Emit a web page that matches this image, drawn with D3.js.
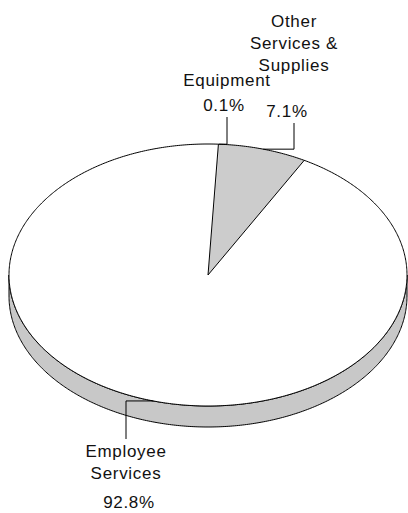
<!DOCTYPE html>
<html>
<head>
<meta charset="utf-8">
<script src="https://cdn.jsdelivr.net/npm/d3@7"></script>
<style>
  body { margin: 0; background: #fff; }
  text { font-family: "Liberation Sans", Arial, sans-serif; font-size: 17px; letter-spacing: 0.7px; fill: #111; }
</style>
</head>
<body>
<svg id="chart" width="408" height="513"></svg>
<script>
// DATA
const categories = ["Equipment", "Other Services & Supplies", "Employee Services"];
const shares = [0.1, 7.1, 92.8];
const nameLines = [["Equipment"], ["Other", "Services &", "Supplies"], ["Employee", "Services"]];
const pctLabels = ["0.1%", "7.1%", "92.8%"];

const svg = d3.select("#chart");

// ellipse geometry for the tilted pie
const cx = 208, cy = 275, rx = 199, ry = 131, depth = 21;
const startOffset = 3.0 * Math.PI / 180;

const topColor = d3.scaleOrdinal().domain(categories).range(["#cccccc", "#cccccc", "#ffffff"]);
const sideColor = d3.scaleOrdinal().domain(categories).range(["#b4b4b4", "#b4b4b4", "#c8c8c8"]);

const pie = d3.pie().sort(null)
    .startAngle(startOffset)
    .endAngle(startOffset + 2 * Math.PI);

const arcs = pie(shares).map((d, i) => ({ ...d, name: categories[i] }));

// projected point at pie angle a (clockwise from 12 o'clock)
const px = a => cx + rx * Math.sin(a);
const py = (a, dz = 0) => cy - ry * Math.cos(a) + dz;

function arcPoints(a0, a1, dz = 0) {
    const n = Math.max(2, Math.ceil(Math.abs(a1 - a0) / 0.01));
    return d3.range(n + 1).map(k => {
        const a = a0 + (a1 - a0) * k / n;
        return [px(a), py(a, dz)];
    });
}

const line = d3.line();

// sides: only the front half (angles between PI/2 and 3PI/2, mod 2PI) shows
const sides = svg.append("g");
arcs.forEach(d => {
    [0, 2 * Math.PI].forEach(shift => {
        const a0 = Math.max(d.startAngle, Math.PI / 2 + shift);
        const a1 = Math.min(d.endAngle, 3 * Math.PI / 2 + shift);
        if (a1 <= a0) return;
        const pts = arcPoints(a0, a1).concat(arcPoints(a1, a0, depth));
        sides.append("path")
            .attr("d", line(pts) + "Z")
            .attr("fill", sideColor(d.name))
            .attr("stroke", "#000")
            .attr("stroke-width", 1);
    });
});

// top faces (filled), then outline drawn once
svg.append("g").selectAll("path")
    .data(arcs)
    .join("path")
    .attr("d", d => line([[cx, cy]].concat(arcPoints(d.startAngle, d.endAngle))) + "Z")
    .attr("fill", d => topColor(d.name));

const outline = svg.append("g")
    .attr("fill", "none")
    .attr("stroke", "#000")
    .attr("stroke-width", 1);

outline.append("path")
    .attr("d", line(arcPoints(0, 2 * Math.PI)) + "Z");

// radial edges at slice boundaries; boundaries closer than 1 degree merge into one
const minGap = Math.PI / 180;
const edgeAngles = [];
arcs.map(d => d.startAngle).sort((a, b) => a - b).forEach(a => {
    if (edgeAngles.length && a - edgeAngles[edgeAngles.length - 1] < minGap) return;
    edgeAngles.push(a);
});
outline.selectAll("line.edge")
    .data(edgeAngles)
    .join("line")
    .attr("class", "edge")
    .attr("x1", cx).attr("y1", cy)
    .attr("x2", a => px(a)).attr("y2", a => py(a));

// labels: x of leader/label column, baselines of name lines, percent baseline, leader end
const labelLayout = [
    { x: 227, nameY: [86], pctX: 224, pctY: 111, leadY: 117 },
    { x: 294, nameY: [27, 49, 71], pctX: 287, pctY: 117, leadY: 123 },
    { x: 126, nameY: [457, 479], pctX: 129, pctY: 508, leadY: 439 }
];

const labels = svg.append("g");
arcs.forEach((d, i) => {
    const L = labelLayout[i];
    const mid = (d.startAngle + d.endAngle) / 2;
    const ax = px(mid), ay = py(mid);
    labels.append("path")
        .attr("d", line([[ax, ay], [L.x, ay], [L.x, L.leadY]]))
        .attr("fill", "none")
        .attr("stroke", "#000")
        .attr("stroke-width", 1);
    nameLines[i].forEach((t, k) => {
        labels.append("text")
            .attr("x", L.x)
            .attr("y", L.nameY[k])
            .attr("text-anchor", "middle")
            .text(t);
    });
    labels.append("text")
        .attr("x", L.pctX)
        .attr("y", L.pctY)
        .attr("text-anchor", "middle")
        .text(pctLabels[i]);
});
</script>
</body>
</html>
